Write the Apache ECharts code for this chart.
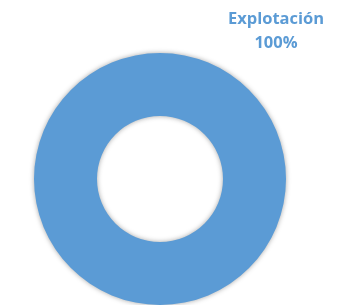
<!DOCTYPE html>
<html>
<head>
<meta charset="utf-8">
<script src="https://cdn.jsdelivr.net/npm/echarts@6/dist/echarts.min.js"></script>
<style>
  html, body { margin: 0; padding: 0; background: #fff; }
  #chart { width: 337px; height: 305px; }
</style>
</head>
<body>
<div id="chart"></div>
<script>
// data
const categories = ['Explotación']
const values = [100]

const chart = echarts.init(document.getElementById('chart'))

chart.setOption({
  animation: false,
  series: [{
    type: 'pie',
    center: [160, 179],
    radius: [63, 126],
    startAngle: 90,
    data: categories.map((name, i) => ({ name: name, value: values[i] })),
    itemStyle: {
      color: '#5b9bd5',
      shadowBlur: 5,
      shadowColor: 'rgba(0,0,0,0.35)'
    },
    labelLine: { show: false },
    label: {
      show: true,
      position: 'outside',
      formatter: '{b}\n{d}%',
      color: '#5b9bd5',
      fontFamily: 'Open Sans',
      fontWeight: 'bold',
      fontSize: 16.5,
      lineHeight: 24,
      align: 'center'
    },
    labelLayout: {
      x: 276,
      y: 31,
      align: 'center',
      verticalAlign: 'middle'
    },
    emphasis: { disabled: true }
  }]
})

window.addEventListener('resize', () => chart.resize())
</script>
</body>
</html>
